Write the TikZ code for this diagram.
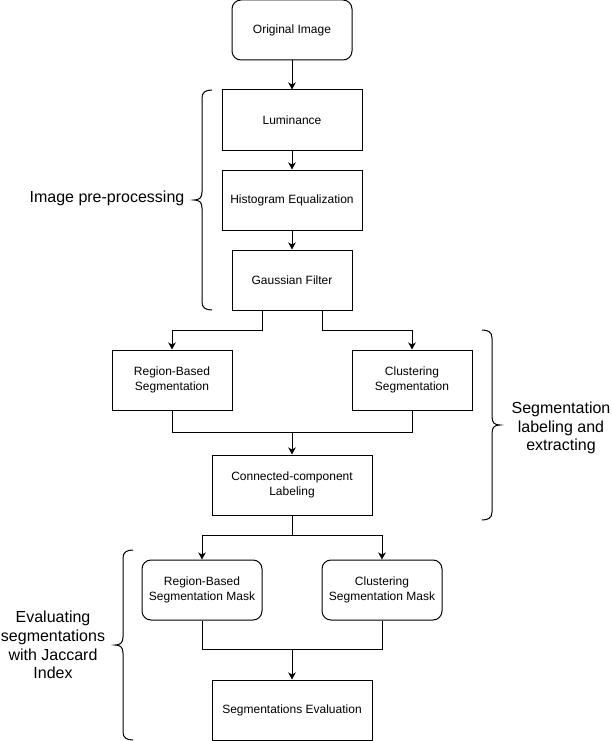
\documentclass[tikz,border=0pt]{standalone}
\usepackage{fontspec}
\setmainfont{Liberation Sans}
\usetikzlibrary{arrows.meta}
\begin{document}
\begin{tikzpicture}[x=1pt,y=-1pt,
  line width=1pt,
  box/.style={draw=black, minimum width=#1, minimum height=60pt, inner sep=0pt,
    align=center, font=\fontsize{12}{14.5}\selectfont},
  box/.default=120pt,
  rbox/.style={box, rounded corners=9pt},
  arr/.style={-{Stealth[length=7pt,width=7.5pt,inset=2pt]}},
  grouplabel/.style={align=center, font=\fontsize{16}{18.8}\selectfont},
  curly/.style={line width=1pt, draw=black}
]
\useasboundingbox (0,0) rectangle (611,741);

% processing steps
\node[rbox] (orig) at (292,30) {Original Image};
\node[box=140pt] (lum) at (292,120) {Luminance};
\node[box=140pt] (hist) at (292,200) {Histogram Equalization};
\node[box] (gauss) at (292,280) {Gaussian Filter};
\node[box] (region) at (172,380) {Region-Based\\Segmentation};
\node[box] (clust) at (412,380) {Clustering\\Segmentation};
\node[box=160pt] (conn) at (292,485) {Connected-component\\Labeling};
\node[rbox] (rmask) at (202,590) {Region-Based\\Segmentation Mask};
\node[rbox] (cmask) at (382,590) {Clustering\\Segmentation Mask};
\node[box=160pt] (eval) at (292,710) {Segmentations Evaluation};

% junction points
\coordinate (m1) at ([yshift=22pt]conn.north);
\coordinate (m2) at ([yshift=-20pt]conn.south);
\coordinate (m3) at ([yshift=30pt]eval.north);

% connectors
\draw[arr] (orig) -- (lum);
\draw[arr] (lum) -- (hist);
\draw[arr] (hist) -- (gauss);
\draw[arr] ([xshift=-30pt]gauss.south) -- ++(0,20) -| (region.north);
\draw[arr] ([xshift=30pt]gauss.south) -- ++(0,20) -| (clust.north);
\draw (region.south) |- (m1);
\draw (clust.south) |- (m1);
\draw[arr] (m1) -- (conn.north);
\draw (conn.south) -- (m2);
\draw[arr] (m2) -| (rmask.north);
\draw[arr] (m2) -| (cmask.north);
\draw (rmask.south) |- (m3);
\draw (cmask.south) |- (m3);
\draw[arr] (m3) -- (eval.north);

% group braces
\draw[curly] (212,90) .. controls (206,90) and (202,92) .. (202,98) -- (202,192)
  .. controls (202,198) and (199,200) .. (194,200)
  .. controls (199,200) and (202,202) .. (202,208) -- (202,302)
  .. controls (202,308) and (206,310) .. (212,310);
\draw[curly] (482,330) .. controls (488,330) and (492,332) .. (492,338) -- (492,417)
  .. controls (492,423) and (495,425) .. (500,425)
  .. controls (495,425) and (492,427) .. (492,433) -- (492,512)
  .. controls (492,518) and (488,520) .. (482,520);
\draw[curly] (133,550) .. controls (127,550) and (123,552) .. (123,558) -- (123,637)
  .. controls (123,643) and (120,645) .. (115,645)
  .. controls (120,645) and (123,647) .. (123,653) -- (123,732)
  .. controls (123,738) and (127,740) .. (133,740);

% group labels
\node[grouplabel] (lab1) at (107,198) {Image pre-processing};
\node[grouplabel] (lab2) at (561,428) {Segmentation\\labeling and\\extracting};
\node[grouplabel] (lab3) at (53,645) {Evaluating\\segmentations\\with Jaccard\\Index};
\end{tikzpicture}
\end{document}
